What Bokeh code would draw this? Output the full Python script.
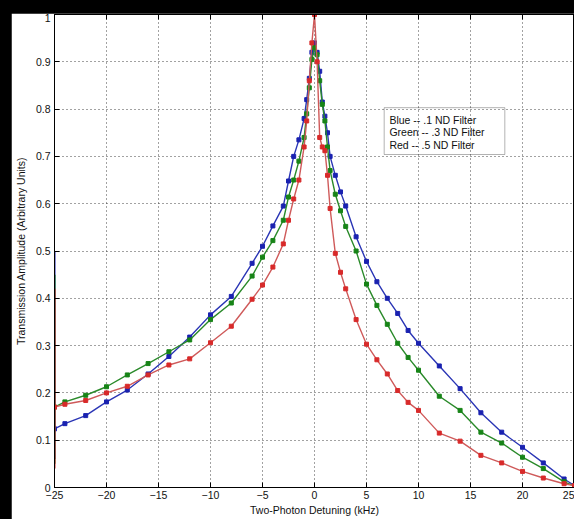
from bokeh.plotting import figure
from bokeh.models import (LinearAxis, FixedTicker, CustomJSTickFormatter, Range1d,
                          BoxAnnotation, ColumnDataSource)
from bokeh.embed import file_html
from bokeh.resources import INLINE
from bokeh.core.properties import value

# ---------------- data ----------------
detuning = [-25, -24, -22, -20, -18, -16, -14, -12, -10, -8, -6, -5, -4, -3, -2.5, -2,
            -1.5, -1, -0.75, -0.5, -0.25, 0, 0.25, 0.5, 0.75, 1, 1.25, 1.5, 2, 2.5, 3,
            4, 5, 6, 7, 8, 9, 10, 12, 14, 16, 18, 20, 22, 24, 25]

blue = [0.124, 0.135, 0.152, 0.181, 0.206, 0.240, 0.277, 0.318, 0.365, 0.404, 0.474, 0.510,
        0.553, 0.595, 0.648, 0.700, 0.735, 0.780, 0.820, 0.865, 0.920, 0.940, 0.920, 0.880,
        0.815, 0.785, 0.750, 0.700, 0.660, 0.625, 0.595, 0.530, 0.478, 0.435, 0.400, 0.368,
        0.332, 0.305, 0.257, 0.209, 0.158, 0.117, 0.085, 0.052, 0.018, 0.004]

green = [0.170, 0.181, 0.195, 0.213, 0.238, 0.262, 0.287, 0.312, 0.355, 0.390, 0.447, 0.487,
         0.522, 0.565, 0.614, 0.650, 0.690, 0.740, 0.790, 0.845, 0.905, 0.930, 0.915, 0.860,
         0.810, 0.775, 0.720, 0.670, 0.620, 0.585, 0.552, 0.500, 0.430, 0.385, 0.345, 0.305,
         0.275, 0.248, 0.193, 0.163, 0.117, 0.094, 0.064, 0.040, 0.012, 0.003]

red = [0.170, 0.176, 0.184, 0.200, 0.214, 0.238, 0.259, 0.272, 0.306, 0.341, 0.398, 0.428,
       0.466, 0.515, 0.565, 0.610, 0.650, 0.720, 0.775, 0.860, 0.940, 1.000, 0.900, 0.740,
       0.720, 0.712, 0.660, 0.590, 0.495, 0.455, 0.420, 0.355, 0.303, 0.270, 0.240, 0.205,
       0.180, 0.163, 0.115, 0.098, 0.068, 0.052, 0.034, 0.020, 0.008, 0.004]

# initial transient at the left edge (low, high)
spike_lo = [0.06, 0.05, 0.04]
spike_hi = [0.50, 0.45, 0.42]

series_colors = ["#1a22b0", "#178417", "#d82a2a"]
line_colors = ["#2a35b5", "#2a8a2a", "#cf5a5a"]

x_ticks = [-25, -20, -15, -10, -5, 0, 5, 10, 15, 20, 25]
y_ticks = [0, 0.1, 0.2, 0.3, 0.4, 0.5, 0.6, 0.7, 0.8, 0.9, 1]

legend_lines = ["Blue -- .1 ND Filter", "Green -- .3 ND Filter", "Red -- .5 ND Filter"]

FONT = "Liberation Sans"

p = figure(width=563, height=506, output_backend="svg", toolbar_location=None,
           x_range=Range1d(-25, 25), y_range=Range1d(0, 1),
           min_border_left=41, min_border_right=0, min_border_top=1, min_border_bottom=32,
           background_fill_color="white", border_fill_color="white")

p.outline_line_color = "black"
p.outline_line_width = 1

for ax, ticks in ((p.xaxis[0], x_ticks), (p.yaxis[0], y_ticks)):
    ax.ticker = FixedTicker(ticks=ticks)
    ax.major_tick_in = 5
    ax.major_tick_out = 0
    ax.minor_tick_line_color = None
    ax.axis_line_color = "black"
    ax.major_tick_line_color = "black"
    ax.major_label_text_font = FONT
    ax.major_label_text_font_size = "10.5px"
    ax.major_label_text_color = "#111111"
    ax.axis_label_text_font = FONT
    ax.axis_label_text_font_size = "10.5px"
    ax.axis_label_text_font_style = "normal"
    ax.axis_label_text_color = "#111111"

p.yaxis[0].formatter = CustomJSTickFormatter(code="return tick.toFixed(1).replace(/\\.0$/, '');")
p.xaxis[0].axis_label = "Two-Photon Detuning (kHz)"
p.yaxis[0].axis_label = "Transmission Amplitude (Arbitrary Units)"
p.xaxis[0].major_label_standoff = 3
p.xaxis[0].axis_label_standoff = 2
p.yaxis[0].major_label_standoff = 4
p.yaxis[0].axis_label_standoff = 6

# top axis with inward ticks, no labels
top = LinearAxis(ticker=FixedTicker(ticks=x_ticks), major_tick_in=5, major_tick_out=0,
                 minor_tick_line_color=None,
                 formatter=CustomJSTickFormatter(code="return '';"),
                 axis_line_color="black", major_label_standoff=0)
p.add_layout(top, "above")

for g in (p.xgrid[0], p.ygrid[0]):
    g.grid_line_color = "#444444"
    g.grid_line_dash = "1 3"
    g.grid_line_width = 1
p.xgrid[0].ticker = FixedTicker(ticks=x_ticks)
p.ygrid[0].ticker = FixedTicker(ticks=y_ticks)

for ys, c, lc, lo, hi in zip((blue, green, red), series_colors, line_colors, spike_lo, spike_hi):
    src = ColumnDataSource(dict(x=detuning, y=ys))
    p.segment(x0=-25, y0=lo, x1=-25, y1=hi, line_color=c, line_width=2)
    p.line("x", "y", source=src, line_color=lc, line_width=1.4)
    p.scatter("x", "y", source=src, marker="square", size=4, fill_color=c, line_color=c)

# legend text box
box = BoxAnnotation(left=6.7, right=18.3, bottom=0.704, top=0.803,
                    fill_alpha=0, line_color="black", line_width=1)
p.add_layout(box)
p.text(x=[7.2, 7.2, 7.2], y=[0.778, 0.751, 0.725], text=legend_lines,
       text_font=value(FONT), text_font_size="10.5px", text_color="#111111",
       text_baseline="middle", text_align="left")

html = file_html(p, INLINE, title="plot")
style = "<style>html,body{margin:0 !important;padding:0;background:#000 !important;}" \
        "body{padding:13px 0 0 11px !important;}</style>"
head_end = html.rfind("</head>")
if head_end != -1:
    html = html[:head_end] + style + html[head_end:]
open("out.html", "w").write(html)
